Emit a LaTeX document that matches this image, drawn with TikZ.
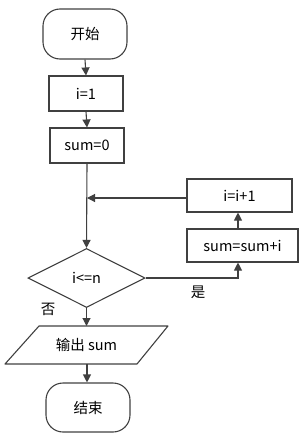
\documentclass[tikz,border=0pt]{standalone}
\usepackage{fontspec}
\setmainfont{Noto Sans CJK SC}
\usetikzlibrary{arrows.meta,shapes.geometric}
\definecolor{ln}{HTML}{404040}
\begin{document}
\begin{tikzpicture}[x=1pt,y=-1pt,
  every node/.style={font=\fontsize{14.5}{16}\selectfont, text=black},
  box/.style={draw=ln, line width=1.1pt, minimum width=#1, minimum height=34pt, inner sep=0pt},
  term/.style={draw=ln, line width=1.1pt, rounded corners=17pt, minimum width=84pt, minimum height=50pt, inner sep=0pt},
  dec/.style={draw=ln, line width=1.1pt, diamond, aspect=2, minimum width=117pt, minimum height=59pt, inner sep=0pt},
  arr/.style={draw=ln, line width=1.1pt, -{Triangle[width=8pt,length=8pt]}},
  lab/.style={font=\fontsize{14.5}{16}\selectfont}
]
\useasboundingbox (0,0) rectangle (304,439);
\node[term] (start) at (85,34) {开始};
\node[box=74pt, minimum height=35pt] (i1) at (86,93.5) {i=1};
\node[box=74pt, minimum height=35pt] (s0) at (87,145.5) {sum=0};
\node[dec] (cond) at (86.5,278) {i<=n};
\node[box=105pt, minimum height=33pt] (inc) at (239.5,195.5) {i=i+1};
\node[box=111pt, minimum height=33pt] (acc) at (242.5,245.5) {sum=sum+i};
\draw[draw=ln, line width=1.1pt, line join=round] (39,326) -- (168,326) -- (137,364) -- (5,364) -- cycle;
\node (out) at (86.5,345) {输出 sum};
\coordinate (outn) at (86.5,326);
\coordinate (outs) at (87,364);
\node[term, minimum height=49pt] (end) at (88,407.5) {结束};
\coordinate (j) at (87,198);
\coordinate (yb) at (238,278);
\draw[arr] (start.south) -- (i1.north);
\draw[arr] (i1.south) -- (s0.north);
\draw[arr] (s0.south) -- (cond.north);
\draw[arr] (inc.west |- j) -- (j);
\draw[arr] (cond.east) -- (yb) -- (yb |- acc.south);
\draw[arr] (acc.north -| yb) -- (inc.south -| yb);
\draw[arr] (cond.south) -- (outn);
\draw[arr] (outs) -- (end.north -| outs);
\node[lab] (yes) at (198,292) {是};
\node[lab] (no) at (48,309) {否};
\end{tikzpicture}
\end{document}
